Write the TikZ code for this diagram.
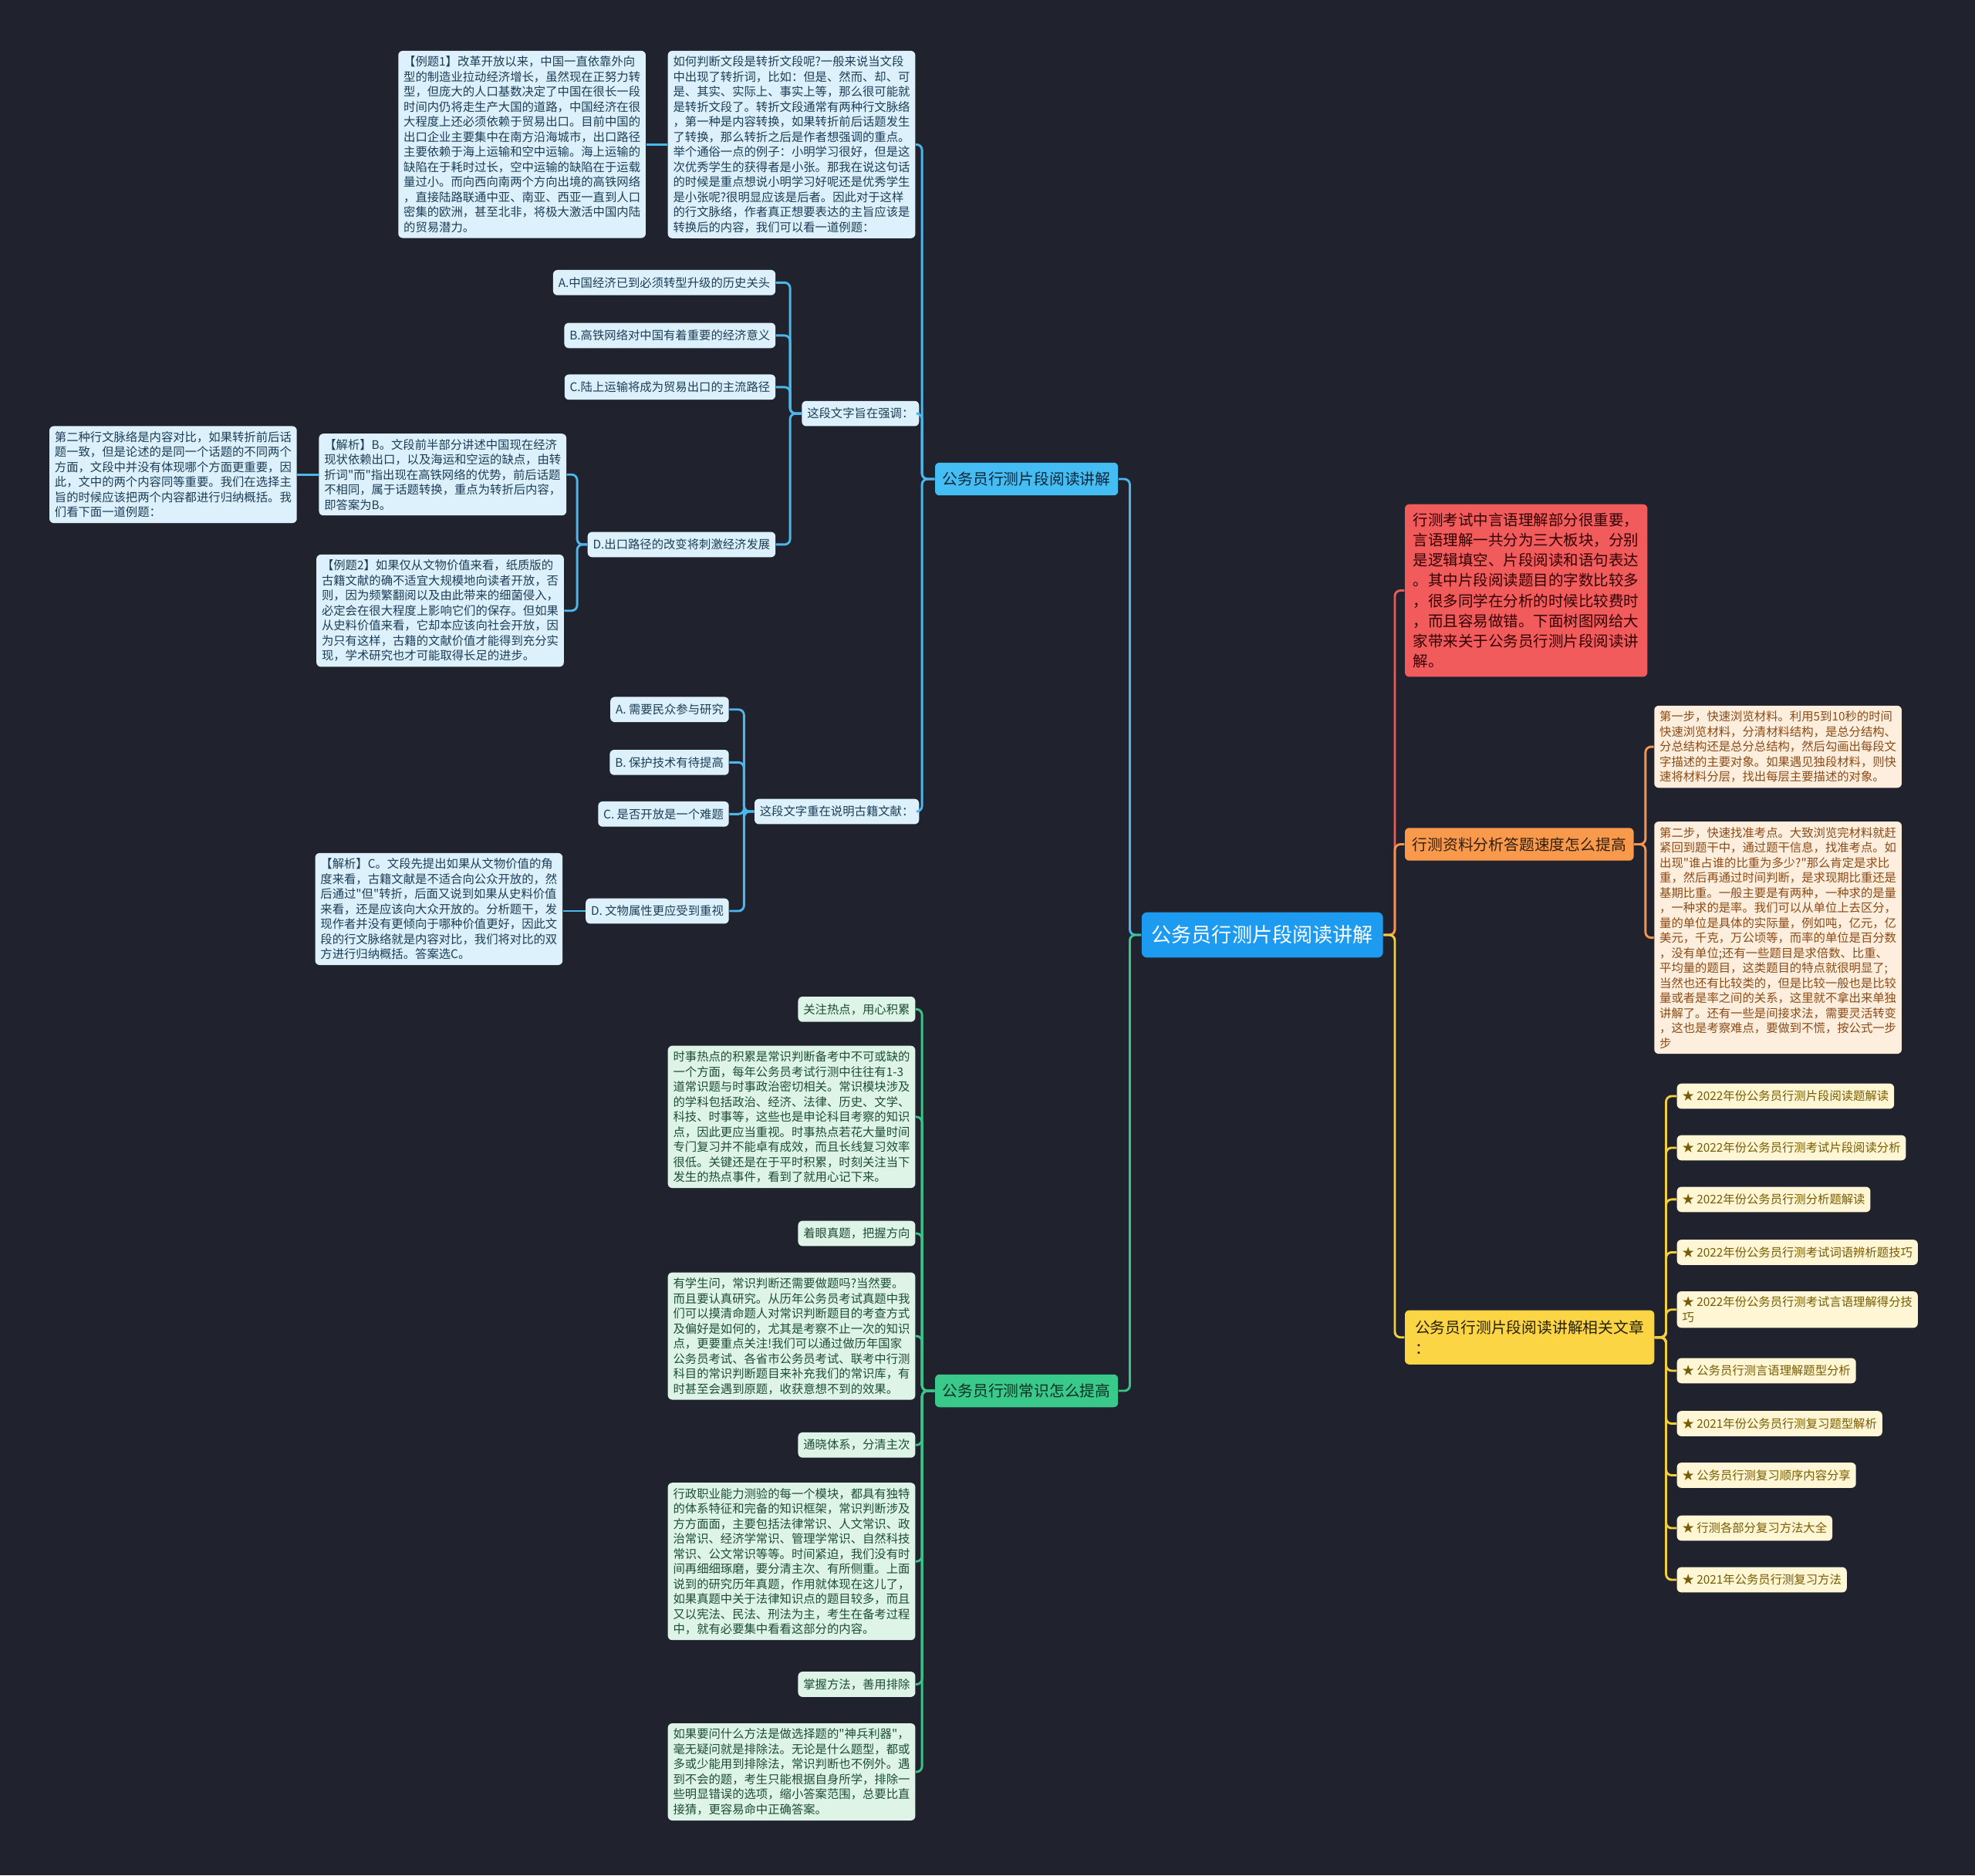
\documentclass[tikz,border=0pt]{standalone}
\usepackage{fontspec}
\newfontfamily\cjk{Noto Sans CJK SC}
\definecolor{bgdark}{HTML}{20232E}
\definecolor{rootblue}{HTML}{1C9BF0}
\definecolor{brblue}{HTML}{44BDF5}
\definecolor{leafblue}{HTML}{DCF1FB}
\definecolor{txtblue}{HTML}{1D3D58}
\definecolor{lnblue}{HTML}{4BB7EC}
\definecolor{brgreen}{HTML}{38C98B}
\definecolor{leafgreen}{HTML}{DDF4E6}
\definecolor{txtgreen}{HTML}{1E4D37}
\definecolor{lngreen}{HTML}{3BC48A}
\definecolor{brred}{HTML}{F25B5B}
\definecolor{lnred}{HTML}{EE5A5A}
\definecolor{brorange}{HTML}{F9994B}
\definecolor{leaforange}{HTML}{FDEEDD}
\definecolor{txtorange}{HTML}{8C4B17}
\definecolor{lnorange}{HTML}{F6964C}
\definecolor{bryellow}{HTML}{FCD545}
\definecolor{leafyellow}{HTML}{FEF6D4}
\definecolor{txtyellow}{HTML}{7A5C00}
\definecolor{lnyellow}{HTML}{F3CF3F}
\tikzset{
  rootbox/.style = {fill = rootblue, text = white, rounded corners = 2.5pt, inner xsep = 4.5pt, minimum height = 20.5pt, font = \cjk\fontsize{9.1pt}{11pt}\selectfont},
  branch/.style = {rounded corners = 2pt, inner xsep = 3.4pt, minimum height = 14.8pt, align = left, font = \cjk\fontsize{6.9pt}{9.2pt}\selectfont},
  leaf/.style = {rounded corners = 2pt, inner xsep = 2.4pt, inner ysep = 2.4pt, minimum height = 11.4pt, align = left, font = \cjk\fontsize{5.35pt}{6.8pt}\selectfont},
  blueleaf/.style = {leaf, fill = leafblue, text = txtblue},
  greenleaf/.style = {leaf, fill = leafgreen, text = txtgreen},
  orangeleaf/.style = {leaf, fill = leaforange, text = txtorange},
  yellowleaf/.style = {leaf, fill = leafyellow, text = txtyellow},
  link/.style = {line width = 1pt, rounded corners = 2.5pt},
  blueline/.style = {link, draw = lnblue},
  greenline/.style = {link, draw = lngreen},
  redline/.style = {link, draw = lnred},
  orangeline/.style = {link, draw = lnorange},
  yellowline/.style = {link, draw = lnyellow}
}
\begin{document}
\begin{tikzpicture}[x = 0.02cm, y = -0.02cm]
    \fill[bgdark] (0, 0) rectangle (1568, 1489);
    \node[rootbox, anchor = north west] (root) at (906, 724) {公务员行测片段阅读讲解};
    \node[branch, fill = brblue, text = txtblue!60!black, anchor = north east] (brA) at (888, 367) {公务员行测片段阅读讲解};
    \node[branch, fill = brgreen, text = txtgreen!60!black, anchor = north east] (brB) at (888, 1091) {公务员行测常识怎么提高};
    \node[branch, fill = brred, text = black!80!red, anchor = north west, font = \cjk\fontsize{6.8pt}{9.1pt}\selectfont, inner xsep = 3.8pt, inner ysep = 4pt] (intro) at (1115, 400) {行测考试中言语理解部分很重要，\\言语理解一共分为三大板块，分别\\是逻辑填空、片段阅读和语句表达\\。其中片段阅读题目的字数比较多\\，很多同学在分析的时候比较费时\\，而且容易做错。下面树图网给大\\家带来关于公务员行测片段阅读讲\\解。};
    \node[branch, fill = brorange, text = black!80!brorange, anchor = north west] (speed) at (1115, 657) {行测资料分析答题速度怎么提高};
    \node[branch, fill = bryellow, text = black!85!bryellow, anchor = north west, minimum height = 24.5pt, minimum width = 112.7pt] (rel) at (1115, 1040) {公务员行测片段阅读讲解相关文章\\：};

    \node[blueleaf, anchor = north east] (howto) at (727, 40) {如何判断文段是转折文段呢?一般来说当文段\\中出现了转折词，比如：但是、然而、却、可\\是、其实、实际上、事实上等，那么很可能就\\是转折文段了。转折文段通常有两种行文脉络\\，第一种是内容转换，如果转折前后话题发生\\了转换，那么转折之后是作者想强调的重点。\\举个通俗一点的例子：小明学习很好，但是这\\次优秀学生的获得者是小张。那我在说这句话\\的时候是重点想说小明学习好呢还是优秀学生\\是小张呢?很明显应该是后者。因此对于这样\\的行文脉络，作者真正想要表达的主旨应该是\\转换后的内容，我们可以看一道例题：};
    \node[blueleaf, anchor = north east] (exA) at (513, 40) {【例题1】改革开放以来，中国一直依靠外向\\型的制造业拉动经济增长，虽然现在正努力转\\型，但庞大的人口基数决定了中国在很长一段\\时间内仍将走生产大国的道路，中国经济在很\\大程度上还必须依赖于贸易出口。目前中国的\\出口企业主要集中在南方沿海城市，出口路径\\主要依赖于海上运输和空中运输。海上运输的\\缺陷在于耗时过长，空中运输的缺陷在于运载\\量过小。而向西向南两个方向出境的高铁网络\\，直接陆路联通中亚、南亚、西亚一直到人口\\密集的欧洲，甚至北非，将极大激活中国内陆\\的贸易潜力。};
    \node[blueleaf, anchor = north east] (tqA) at (730, 318) {这段文字旨在强调：};
    \node[blueleaf, anchor = north east] (optA1) at (616, 214) {A.中国经济已到必须转型升级的历史关头};
    \node[blueleaf, anchor = north east] (optB1) at (616, 256) {B.高铁网络对中国有着重要的经济意义};
    \node[blueleaf, anchor = north east] (optC1) at (616, 297) {C.陆上运输将成为贸易出口的主流路径};
    \node[blueleaf, anchor = north east] (optD1) at (616, 422) {D.出口路径的改变将刺激经济发展};
    \node[blueleaf, anchor = north east] (jxB) at (450, 344) {【解析】B。文段前半部分讲述中国现在经济\\现状依赖出口，以及海运和空运的缺点，由转\\折词"而"指出现在高铁网络的优势，前后话题\\不相同，属于话题转换，重点为转折后内容，\\即答案为B。};
    \node[blueleaf, anchor = north east] (second) at (236, 338) {第二种行文脉络是内容对比，如果转折前后话\\题一致，但是论述的是同一个话题的不同两个\\方面，文段中并没有体现哪个方面更重要，因\\此，文中的两个内容同等重要。我们在选择主\\旨的时候应该把两个内容都进行归纳概括。我\\们看下面一道例题：};
    \node[blueleaf, anchor = north east] (exB) at (448, 440) {【例题2】如果仅从文物价值来看，纸质版的\\古籍文献的确不适宜大规模地向读者开放，否\\则，因为频繁翻阅以及由此带来的细菌侵入，\\必定会在很大程度上影响它们的保存。但如果\\从史料价值来看，它却本应该向社会开放，因\\为只有这样，古籍的文献价值才能得到充分实\\现，学术研究也才可能取得长足的进步。};
    \node[blueleaf, anchor = north east] (tqB) at (730, 634) {这段文字重在说明古籍文献：};
    \node[blueleaf, anchor = north east] (optA2) at (579, 553) {A. 需要民众参与研究};
    \node[blueleaf, anchor = north east] (optB2) at (579, 595) {B. 保护技术有待提高};
    \node[blueleaf, anchor = north east] (optC2) at (579, 636) {C. 是否开放是一个难题};
    \node[blueleaf, anchor = north east] (optD2) at (579, 713) {D. 文物属性更应受到重视};
    \node[blueleaf, anchor = north east] (jxC) at (447, 677) {【解析】C。文段先提出如果从文物价值的角\\度来看，古籍文献是不适合向公众开放的，然\\后通过"但"转折，后面又说到如果从史料价值\\来看，还是应该向大众开放的。分析题干，发\\现作者并没有更倾向于哪种价值更好，因此文\\段的行文脉络就是内容对比，我们将对比的双\\方进行归纳概括。答案选C。};

    \node[greenleaf, anchor = north east] (gA) at (727, 791) {关注热点，用心积累};
    \node[greenleaf, anchor = north east] (gtA) at (727, 830) {时事热点的积累是常识判断备考中不可或缺的\\一个方面，每年公务员考试行测中往往有1-3\\道常识题与时事政治密切相关。常识模块涉及\\的学科包括政治、经济、法律、历史、文学、\\科技、时事等，这些也是申论科目考察的知识\\点，因此更应当重视。时事热点若花大量时间\\专门复习并不能卓有成效，而且长线复习效率\\很低。关键还是在于平时积累，时刻关注当下\\发生的热点事件，看到了就用心记下来。};
    \node[greenleaf, anchor = north east] (gB) at (727, 969) {着眼真题，把握方向};
    \node[greenleaf, anchor = north east] (gtB) at (727, 1010) {有学生问，常识判断还需要做题吗?当然要。\\而且要认真研究。从历年公务员考试真题中我\\们可以摸清命题人对常识判断题目的考查方式\\及偏好是如何的，尤其是考察不止一次的知识\\点，更要重点关注!我们可以通过做历年国家\\公务员考试、各省市公务员考试、联考中行测\\科目的常识判断题目来补充我们的常识库，有\\时甚至会遇到原题，收获意想不到的效果。};
    \node[greenleaf, anchor = north east] (gC) at (727, 1137) {通晓体系，分清主次};
    \node[greenleaf, anchor = north east] (gtC) at (727, 1177) {行政职业能力测验的每一个模块，都具有独特\\的体系特征和完备的知识框架，常识判断涉及\\方方面面，主要包括法律常识、人文常识、政\\治常识、经济学常识、管理学常识、自然科技\\常识、公文常识等等。时间紧迫，我们没有时\\间再细细琢磨，要分清主次、有所侧重。上面\\说到的研究历年真题，作用就体现在这儿了，\\如果真题中关于法律知识点的题目较多，而且\\又以宪法、民法、刑法为主，考生在备考过程\\中，就有必要集中看看这部分的内容。};
    \node[greenleaf, anchor = north east] (gD) at (727, 1327) {掌握方法，善用排除};
    \node[greenleaf, anchor = north east] (gtD) at (727, 1368) {如果要问什么方法是做选择题的"神兵利器"，\\毫无疑问就是排除法。无论是什么题型，都或\\多或少能用到排除法，常识判断也不例外。遇\\到不会的题，考生只能根据自身所学，排除一\\些明显错误的选项，缩小答案范围，总要比直\\接猜，更容易命中正确答案。};

    \node[orangeleaf, anchor = north west] (stepA) at (1313, 560) {第一步，快速浏览材料。利用5到10秒的时间\\快速浏览材料，分清材料结构，是总分结构、\\分总结构还是总分总结构，然后勾画出每段文\\字描述的主要对象。如果遇见独段材料，则快\\速将材料分层，找出每层主要描述的对象。};
    \node[orangeleaf, anchor = north west] (stepB) at (1313, 652) {第二步，快速找准考点。大致浏览完材料就赶\\紧回到题干中，通过题干信息，找准考点。如\\出现"谁占谁的比重为多少?"那么肯定是求比\\重，然后再通过时间判断，是求现期比重还是\\基期比重。一般主要是有两种，一种求的是量\\，一种求的是率。我们可以从单位上去区分，\\量的单位是具体的实际量，例如吨，亿元，亿\\美元，千克，万公顷等，而率的单位是百分数\\，没有单位;还有一些题目是求倍数、比重、\\平均量的题目，这类题目的特点就很明显了;\\当然也还有比较类的，但是比较一般也是比较\\量或者是率之间的关系，这里就不拿出来单独\\讲解了。还有一些是间接求法，需要灵活转变\\，这也是考察难点，要做到不慌，按公式一步\\步};

    \node[yellowleaf, anchor = north west] (art1) at (1331, 860) {★ 2022年份公务员行测片段阅读题解读};
    \node[yellowleaf, anchor = north west] (art2) at (1331, 901) {★ 2022年份公务员行测考试片段阅读分析};
    \node[yellowleaf, anchor = north west] (art3) at (1331, 942) {★ 2022年份公务员行测分析题解读};
    \node[yellowleaf, anchor = north west] (art4) at (1331, 984) {★ 2022年份公务员行测考试词语辨析题技巧};
    \node[yellowleaf, anchor = north west] (art5) at (1331, 1025) {★ 2022年份公务员行测考试言语理解得分技\\巧};
    \node[yellowleaf, anchor = north west] (art6) at (1331, 1078) {★ 公务员行测言语理解题型分析};
    \node[yellowleaf, anchor = north west] (art7) at (1331, 1120) {★ 2021年份公务员行测复习题型解析};
    \node[yellowleaf, anchor = north west] (art8) at (1331, 1161) {★ 公务员行测复习顺序内容分享};
    \node[yellowleaf, anchor = north west] (art9) at (1331, 1203) {★ 行测各部分复习方法大全};
    \node[yellowleaf, anchor = north west] (art10) at (1331, 1244) {★ 2021年公务员行测复习方法};

    \draw[blueline] (root.west) -- ++(-9, 0) |- (brA.east);
    \draw[greenline] (root.west) -- ++(-9, 0) |- (brB.east);
    \draw[redline] (root.east) -- ++(9, 0) |- (intro.west);
    \draw[orangeline] (root.east) -- ++(9, 0) |- (speed.west);
    \draw[yellowline] (root.east) -- ++(9, 0) |- (rel.west);
    \foreach \k in {howto, tqA, tqB}
        \draw[blueline] (brA.west) -- ++(-10, 0) |- (\k.east);
    \draw[blueline] (howto.west) -- (howto.west -| exA.east);
    \foreach \k in {optA1, optB1, optC1, optD1}
        \draw[blueline] (tqA.west) -- ++(-9, 0) |- (\k.east);
    \foreach \k in {jxB, exB}
        \draw[blueline] (optD1.west) -- ++(-8, 0) |- (\k.east);
    \draw[blueline] (jxB.west) -- (jxB.west -| second.east);
    \foreach \k in {optA2, optB2, optC2, optD2}
        \draw[blueline] (tqB.west) -- ++(-8, 0) |- (\k.east);
    \draw[blueline] (optD2.west) -- (optD2.west -| jxC.east);
    \foreach \k in {gA, gtA, gB, gtB, gC, gtC, gD, gtD}
        \draw[greenline] (brB.west) -- ++(-10, 0) |- (\k.east);
    \foreach \k in {stepA, stepB}
        \draw[orangeline] (speed.east) -- ++(9, 0) |- (\k.west);
    \foreach \k in {1, ..., 10}
        \draw[yellowline] (rel.east) -- ++(9, 0) |- (art\k.west);
\end{tikzpicture}
\end{document}
